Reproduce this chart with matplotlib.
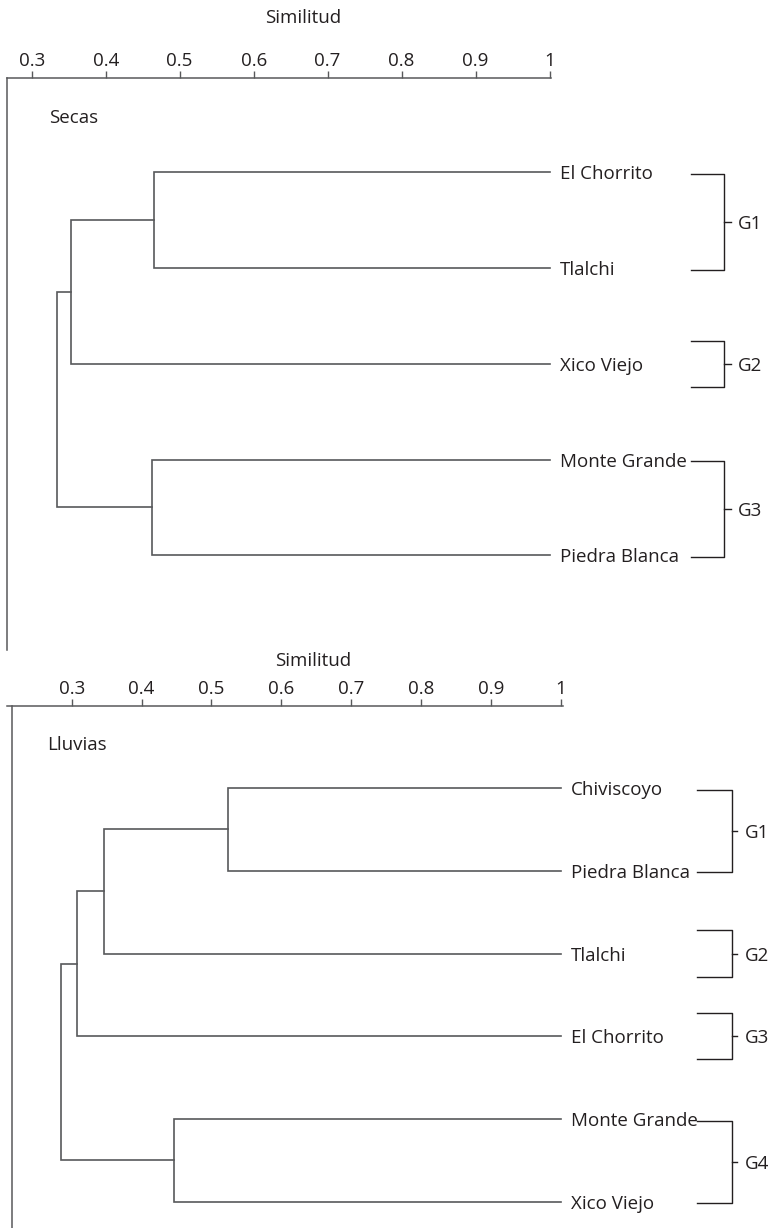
import matplotlib.pyplot as plt

plt.rcParams['font.family'] = ['Open Sans', 'DejaVu Sans']

# --- data ---
ticks = [0.3, 0.4, 0.5, 0.6, 0.7, 0.8, 0.9, 1.0]
tick_labels = ['0.3', '0.4', '0.5', '0.6', '0.7', '0.8', '0.9', '1']

# Secas (dry season): leaves in plot order, merges as (node a, node b, similarity)
secas_leaves = ['El Chorrito', 'Tlalchi', 'Xico Viejo', 'Monte Grande', 'Piedra Blanca']
secas_merges = [(0, 1, 0.465), (3, 4, 0.462), (5, 2, 0.353), (7, 6, 0.334)]
secas_groups = [('G1', 0, 1), ('G2', 2, 2), ('G3', 3, 4)]

# Lluvias (rainy season)
lluvias_leaves = ['Chiviscoyo', 'Piedra Blanca', 'Tlalchi', 'El Chorrito',
                  'Monte Grande', 'Xico Viejo']
lluvias_merges = [(0, 1, 0.524), (6, 2, 0.346), (7, 3, 0.307), (4, 5, 0.447),
                  (8, 9, 0.285)]
lluvias_groups = [('G1', 0, 1), ('G2', 2, 2), ('G3', 3, 3), ('G4', 4, 5)]

LINE = '#58595b'
TEXT = '#231f20'
FS = 13.5


def draw_panel(ax, title, leaves, merges, groups, xlim, ylim, br, single_h,
               xlabel_pos, title_pos, spine_x=None):
    n = len(leaves)
    xs = [1.0] * n
    ys = list(range(n))
    for a, b, s in merges:
        ax.plot([xs[a], s, s, xs[b]], [ys[a], ys[a], ys[b], ys[b]],
                color=LINE, lw=1.2, solid_joinstyle='miter')
        xs.append(s)
        ys.append((ys[a] + ys[b]) / 2)

    for i, name in enumerate(leaves):
        ax.annotate(name, xy=(1.0, i), xytext=(7.5, 0), textcoords='offset points',
                    va='center_baseline', ha='left', fontsize=FS, color=TEXT,
                    annotation_clip=False)

    # group brackets
    x0, xv, xt, xl = br
    for g, first, last in groups:
        if first == last:
            y0, y1 = first - single_h, first + single_h
        else:
            y0, y1 = first + 0.02, last + 0.02
        ym = (y0 + y1) / 2
        ax.plot([x0, xv, xv, x0], [y0, y0, y1, y1], color=TEXT, lw=1.0,
                clip_on=False)
        ax.plot([xv, xt], [ym, ym], color=TEXT, lw=1.0, clip_on=False)
        ax.text(xl, ym, g, va='center_baseline', ha='left', fontsize=FS,
                color=TEXT, clip_on=False)

    ax.set_xlim(*xlim)
    ax.set_ylim(*ylim)
    ax.xaxis.tick_top()
    ax.set_xticks(ticks)
    ax.set_xticklabels(tick_labels)
    ax.set_yticks([])
    ax.tick_params(axis='x', length=5, width=1, color=LINE, pad=0.5,
                   labelsize=FS, labelcolor=TEXT)
    for side in ['bottom', 'right']:
        ax.spines[side].set_visible(False)
    for side in ['top', 'left']:
        ax.spines[side].set_color(LINE)
        ax.spines[side].set_linewidth(1.1)
    if spine_x is not None:
        ax.spines['left'].set_position(('data', spine_x))

    ax.xaxis.set_label_position('top')
    ax.set_xlabel('Similitud', fontsize=FS, color=TEXT)
    ax.xaxis.label.set_va('center')
    ax.xaxis.set_label_coords(*xlabel_pos)
    ax.text(title_pos[0], title_pos[1], title, transform=ax.transAxes,
            fontsize=FS, color=TEXT, va='center_baseline', ha='left')


fig = plt.figure(figsize=(7.78, 12.28), dpi=100)

ax1 = fig.add_axes([0.00938, 0.4707, 0.6989, 0.4660])
draw_panel(ax1, 'Secas', secas_leaves, secas_merges, secas_groups,
           xlim=(0.267, 1.002), ylim=(4.989, -0.988),
           br=(1.191, 1.236, 1.245, 1.254), single_h=0.24,
           xlabel_pos=(0.544, 1.104), title_pos=(0.0772, 0.9326))

ax2 = fig.add_axes([0.00861, 0.0, 0.7147, 0.4253])
draw_panel(ax2, 'Lluvias', lluvias_leaves, lluvias_merges, lluvias_groups,
           xlim=(0.207, 1.003), ylim=(5.318, -0.995),
           br=(1.195, 1.245, 1.253, 1.264), single_h=0.28,
           xlabel_pos=(0.551, 1.0856), title_pos=(0.0719, 0.929),
           spine_x=0.215)

fig.savefig('out.png', dpi=100)
